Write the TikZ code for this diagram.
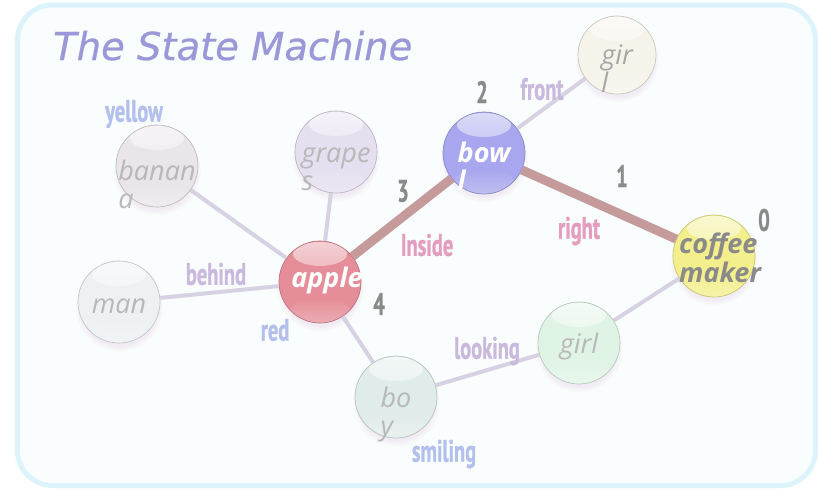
\documentclass[tikz,border=0pt]{standalone}
\usepackage{fontspec}
\usetikzlibrary{fadings,calc,shadows}
\newfontfamily\titlefont[FakeBold=0.6]{DejaVu Sans}
\newfontfamily\ballfont{Open Sans}
\newfontfamily\lblfont[FakeStretch=0.66,FakeBold=0.8]{PT Sans}
\definecolor{frameC}{HTML}{DDF3FB}
\definecolor{bgC}{HTML}{FAFDFD}
\definecolor{titleC}{HTML}{9B97D8}
\definecolor{thinC}{HTML}{D6D2E4}
\definecolor{thickC}{HTML}{C49A9A}
\definecolor{blueL}{HTML}{B3BFEC}
\definecolor{lavL}{HTML}{C9B9DD}
\definecolor{pinkL}{HTML}{E49CBF}
\definecolor{numC}{HTML}{8A8A8A}
\definecolor{paleT}{HTML}{B8B8B8}
\definecolor{bananaC}{HTML}{E9E5E9}
\definecolor{grapeC}{HTML}{E6DFF0}
\definecolor{bowlC}{HTML}{A7A6EE}
\definecolor{girlaC}{HTML}{F6F3EA}
\definecolor{coffeeC}{HTML}{F3EF8C}
\definecolor{appleC}{HTML}{E58D98}
\definecolor{manC}{HTML}{EDF1F4}
\definecolor{boyC}{HTML}{E0ECEA}
\definecolor{girlbC}{HTML}{E0F4E6}
\tikzset{
  ball/.style={circle, minimum size=82pt, inner sep=0pt, fill=#1, draw=#1!82!black, line width=0.7pt,
    circular drop shadow={shadow xshift=0pt, shadow yshift=-5pt, opacity=0.07, fill=violet, shadow scale=1.08},
    path picture={
      \fill[white, opacity=0.6, path fading=south] ([yshift=-13pt]path picture bounding box.north) ellipse (27pt and 12pt);
      \fill[white, opacity=0.3, path fading=north] ([yshift=12pt]path picture bounding box.south) ellipse (30pt and 14pt);
    }},
  paletxt/.style={font=\ballfont\itshape\fontsize{27}{29}\selectfont, text=paleT, inner sep=0pt},
  boldtxt/.style={font=\ballfont\bfseries\itshape\fontsize{27}{29}\selectfont, text=#1, inner sep=0pt},
  thinedge/.style={draw=thinC, line width=4pt},
  thickedge/.style={draw=thickC, line width=9pt},
  lbl/.style={font=\lblfont\bfseries\fontsize{31}{33}\selectfont, text=#1, inner sep=0pt},
  num/.style={font=\lblfont\bfseries\fontsize{31}{33}\selectfont, text=numC, inner sep=0pt},
}
\begin{document}
\begin{tikzpicture}[x=1pt, y=-1pt]
\useasboundingbox (0,0) rectangle (818,490);
\fill[white] (0,0) rectangle (818,490);
\draw[frameC, line width=5pt, fill=bgC, rounded corners=35pt] (17.5,5) rectangle (815.5,485.5);

\node[font=\titlefont\itshape\fontsize{38.5}{40}\selectfont, text=titleC, anchor=base west, inner sep=0pt] (title) at (53,60) {The State Machine};

% balls
\node[ball=bananaC] (banana) at (157,166) {};
\node[ball=grapeC] (grape) at (336,152) {};
\node[ball=bowlC] (bowl) at (484,153) {};
\node[ball=girlaC, minimum size=78pt] (girla) at (617,55) {};
\node[ball=coffeeC] (coffee) at (714,256) {};
\node[ball=appleC] (apple) at (320,282) {};
\node[ball=manC] (man) at (119,302) {};
\node[ball=boyC] (boy) at (396,397) {};
\node[ball=girlbC] (girlb) at (579,343) {};

% edges
\draw[thinedge] (banana) -- (apple);
\draw[thinedge] (grape) -- (apple);
\draw[thinedge] (man) -- (apple);
\draw[thinedge] (apple) -- (boy);
\draw[thinedge] (boy) -- (girlb);
\draw[thinedge] (girlb) -- (coffee);
\draw[thinedge] (bowl) -- (girla);
\draw[thickedge] (apple) -- (bowl);
\draw[thickedge] (bowl) -- (coffee);

% ball texts
\node[paletxt, anchor=base] (bananaT1) at ($(banana)+(0,14)$) {banan};
\node[paletxt, anchor=base west] (bananaT2) at ($(bananaT1.base west)+(0,28)$) {a};
\node[paletxt, anchor=base] (grapeT1) at ($(grape)+(0,10)$) {grape};
\node[paletxt, anchor=base west] (grapeT2) at ($(grapeT1.base west)+(0,28)$) {s};
\node[boldtxt=white, anchor=base] (bowlT1) at ($(bowl)+(0,9)$) {bow};
\node[boldtxt=white, anchor=base west] (bowlT2) at ($(bowlT1.base west)+(0,28)$) {l};
\node[paletxt, text=numC!75, anchor=base] (girlaT1) at ($(girla)+(0,9)$) {gir};
\node[paletxt, text=numC!75, anchor=base west] (girlaT2) at ($(girlaT1.base west)+(0,28)$) {l};
\node[boldtxt=numC, anchor=base west] (coffeeT1) at ($(coffee)+(-35,-3)$) {coffee};
\node[boldtxt=numC, anchor=base west] (coffeeT2) at ($(coffeeT1.base west)+(0,29)$) {maker};
\node[boldtxt=white, anchor=base] (appleT) at ($(apple)+(7,5)$) {apple};
\node[paletxt, anchor=base] (manT) at ($(man)+(0,11)$) {man};
\node[paletxt, anchor=base] (boyT1) at ($(boy)+(0,10)$) {bo};
\node[paletxt, anchor=base west] (boyT2) at ($(boyT1.base west)+(0,28)$) {y};
\node[paletxt, text=paleT, anchor=base] (girlbT) at ($(girlb)+(0,10)$) {girl};

% edge labels
\node[lbl=blueL] (lyellow) at (134,114) {yellow};
\node[lbl=lavL] (lbehind) at (216,274) {behind};
\node[lbl=blueL] (lred) at (275,330) {red};
\node[lbl=lavL] (lfront) at (542,89) {front};
\node[lbl=pinkL] (linside) at (427,245) {Inside};
\node[lbl=pinkL] (lright) at (579,231) {right};
\node[lbl=lavL] (llooking) at (487,351) {looking};
\node[lbl=blueL] (lsmiling) at (444,454) {smiling};

% numbers
\node[num] (n2) at (482,92) {2};
\node[num] (n3) at (403,191) {3};
\node[num] (n1) at (622,176) {1};
\node[num] (n0) at (764,220) {0};
\node[num] (n4) at (379,304) {4};
\end{tikzpicture}
\end{document}
